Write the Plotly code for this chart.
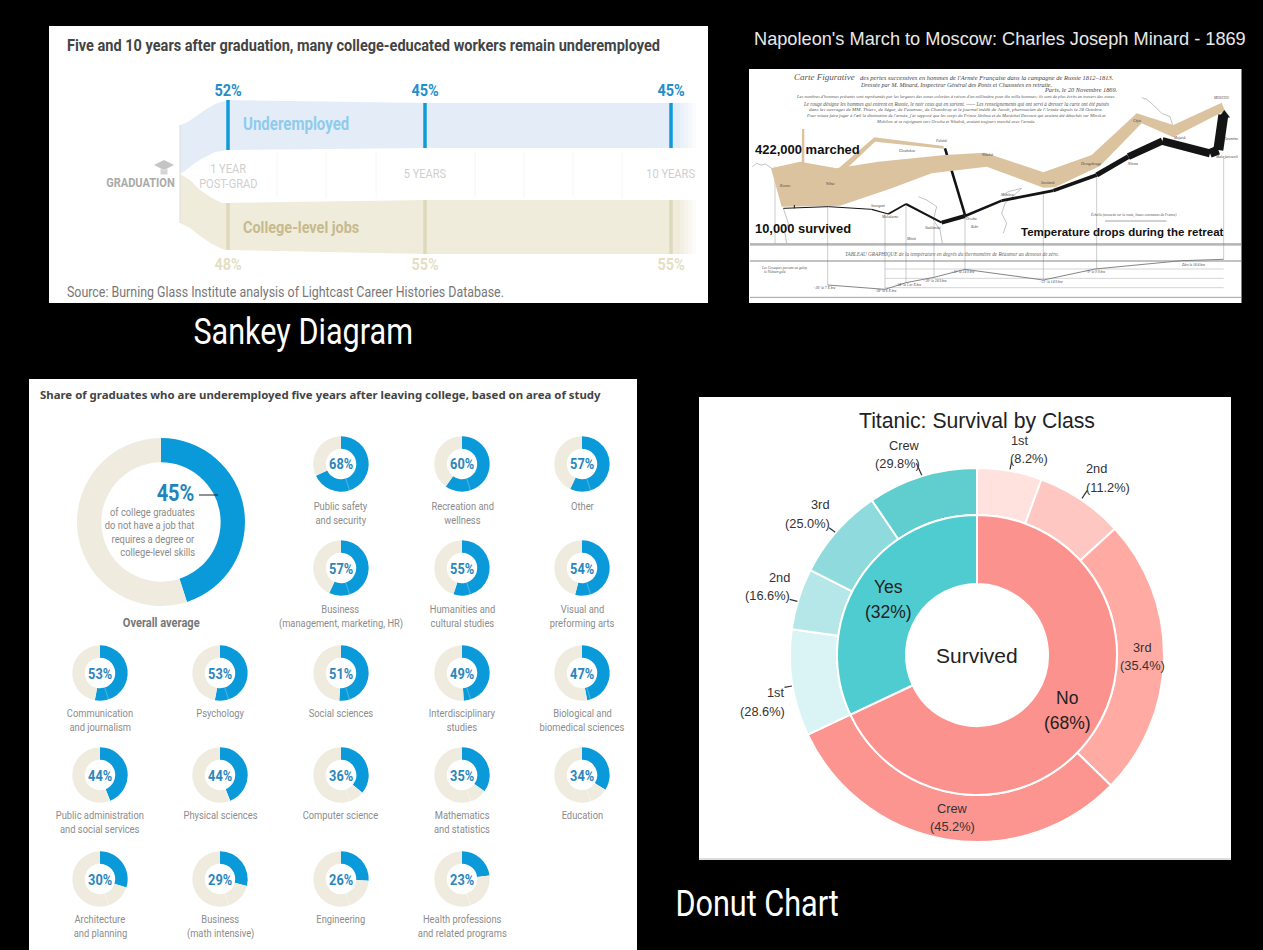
import math
import plotly.graph_objects as go

W, H = 1263, 950
NARROW = "Liberation Sans Narrow, Roboto, sans-serif"
ARIAL = "Liberation Sans, Arial, sans-serif"
SERIF = "Liberation Serif, serif"

BLUE = "#0b9ad9"
BEIGE = "#efecdf"

# ---------- Sankey panel data (axis units = panel position) ----------
sankey_stage_x = [228, 425, 671]
sankey_under_pct = [52, 45, 45]
sankey_college_pct = [48, 55, 55]
sankey_stage_names = [["1 YEAR", "POST-GRAD"], ["5 YEARS"], ["10 YEARS"]]
band_x = [180, 186, 195, 205, 215, 228, 425, 671, 680]
under_top = [125, 123, 117, 110, 104, 100, 103, 103, 103]
under_bottom = [174, 170, 163, 157, 152, 150, 148, 148, 148]
college_x = [180, 190, 200, 212, 222, 228, 425, 671, 680]
college_top = [174, 180, 190, 198, 203, 203, 200, 200, 200]
college_bottom = [223, 228, 236, 244, 249, 250, 254, 254, 254]
fade_x = [680, 684, 688, 692, 696]
fade_alpha = [0.8, 0.6, 0.4, 0.2]
under_stage_top = [100, 103, 103]
under_stage_bottom = [150, 148, 148]
college_stage_top = [203, 200, 200]
college_stage_bottom = [250, 254, 254]
grid_x = [277, 326, 376, 475, 524, 573, 622]

# ---------- Minard panel data (axis units = map position) ----------
advance_x = [78, 165, 275, 400, 600, 720, 895, 1040, 1175, 1285, 1430, 1440, 1285, 1190, 1065, 930, 895, 725, 560, 440, 285, 110]
advance_y = [325, 305, 325, 305, 285, 278, 337, 285, 160, 195, 128, 152, 232, 190, 318, 382, 383, 320, 340, 385, 437, 440]
north_x = [275, 388, 595, 597, 390, 290]
north_y = [330, 232, 258, 266, 245, 340]
spur_x = [170, 171, 178, 178]
spur_y = [310, 207, 207, 310]
retreat_x = [1435, 1420, 1395, 1252, 1150, 1055, 925, 770, 660, 590, 483, 430, 380, 250, 115]
retreat_y = [165, 270, 280, 243, 290, 345, 392, 422, 468, 488, 432, 462, 448, 440, 445]
retreat_w = [10, 9, 8, 7, 5, 3.5, 2.8, 2.5, 4, 2, 1.8, 1.2, 1, 1]
polotzk_x = [600, 660]
polotzk_y = [265, 465]
temp_x = [248, 420, 483, 567, 660, 895, 1050, 1310, 1436]
temp_y = [675, 688, 668, 652, 628, 660, 627, 602, 598]
drop_x = [90, 248, 420, 483, 567, 660, 895, 1055, 1436]
drop_top = [320, 440, 462, 432, 488, 468, 392, 345, 290]
drop_bottom = [550, 675, 688, 668, 652, 628, 660, 627, 598]
rivers = [
    ([22, 35, 48, 62, 80], [320, 310, 315, 312, 325]),
    ([1190, 1205, 1225, 1250, 1275, 1283], [113, 118, 135, 160, 170, 195]),
    ([775, 790, 830, 780, 770, 785, 775], [405, 395, 385, 430, 460, 490, 520]),
    ([520, 545, 575, 565, 585, 592], [410, 420, 440, 480, 510, 550]),
    ([115, 130, 120, 125], [445, 490, 520, 550]),
]
city_names = ["Kowno", "Wilna", "Polotzk", "Gloubokoe", "Witebsk", "Smolensk", "Dorogobouge", "Chjat", "Mojaisk",
              "MOSCOU", "Tarantino", "Malo-jarosewli", "Wixma", "Mohilow", "Orscha", "Smorgoni", "Molodecno", "Studienska", "Minsk", "Bobr"]
city_x = [118, 256, 588, 487, 728, 908, 1035, 1178, 1303, 1428, 1458, 1445, 1163, 785, 680, 400, 432, 565, 497, 690]
city_y = [378, 372, 242, 272, 285, 368, 312, 183, 233, 115, 237, 290, 313, 405, 478, 437, 472, 505, 537, 500]
temp_label = ["Zéro le 18 8.bre", "−9° le 9 9.bre", "−21° le 14 9.bre", "−11° le 24 9.bre", "−20° le 28 9.bre",
              "−24° le 1.er X.bre", "−30° le 6 X.bre", "−26° le 7 X.bre"]
temp_label_x = [1345, 1050, 918, 655, 570, 490, 422, 238]
temp_label_y = [615, 635, 665, 635, 662, 675, 693, 685]
minard_text = [
    "Les nombres d'hommes présents sont représentés par les largeurs des zones colorées à raison d'un millimètre pour dix mille hommes; ils sont de plus écrits en travers des zones.",
    "Le rouge désigne les hommes qui entrent en Russie, le noir ceux qui en sortent. —— Les renseignements qui ont servi à dresser la carte ont été puisés",
    "dans les ouvrages de MM. Thiers, de Ségur, de Fezensac, de Chambray et le journal inédit de Jacob, pharmacien de l'Armée depuis le 28 Octobre.",
    "Pour mieux faire juger à l'œil la diminution de l'armée, j'ai supposé que les corps du Prince Jérôme et du Maréchal Davoust qui avaient été détachés sur Minsk et",
    "Mohilow et se rejoignent vers Orscha et Witebsk, avaient toujours marché avec l'armée.",
]

# ---------- Donut grid data ----------
overall_share = 45
area_names = [
    ["Public safety", "and security"], ["Recreation and", "wellness"], ["Other"],
    ["Business", "(management, marketing, HR)"], ["Humanities and", "cultural studies"], ["Visual and", "preforming arts"],
    ["Communication", "and journalism"], ["Psychology"], ["Social sciences"], ["Interdisciplinary", "studies"], ["Biological and", "biomedical sciences"],
    ["Public administration", "and social services"], ["Physical sciences"], ["Computer science"], ["Mathematics", "and statistics"], ["Education"],
    ["Architecture", "and planning"], ["Business", "(math intensive)"], ["Engineering"], ["Health professions", "and related programs"],
]
area_share = [68, 60, 57, 57, 55, 54, 53, 53, 51, 49, 47, 44, 44, 36, 35, 34, 30, 29, 26, 23]
area_col = [341, 462, 582, 341, 462, 582, 100, 220, 341, 462, 582, 100, 220, 341, 462, 582, 100, 220, 341, 462]
area_row = [464, 464, 464, 568, 568, 568, 673, 673, 673, 673, 673, 775, 775, 775, 775, 775, 879, 879, 879, 879]
area_label_y = {464: 506, 568: 609, 673: 713, 775: 815, 879: 919}

# ---------- Titanic data ----------
survived_labels = ["No", "Yes"]
survived_values = [68, 32]
survived_colors = ["#fb928e", "#4fccd0"]
class_labels = ["No: 1st", "No: 2nd", "No: 3rd", "No: Crew", "Yes: 1st", "Yes: 2nd", "Yes: 3rd", "Yes: Crew"]
class_values = [5.6, 7.6, 24.1, 30.7, 9.2, 5.3, 8.0, 9.5]
class_colors = ["#ffe1de", "#ffc7c1", "#ffaba3", "#fc958f", "#daf3f5", "#b5e7e9", "#8fdadd", "#60cdcf"]


def PX(v):
    return v / W


def PY(v):
    return 1 - v / H


fig = go.Figure()
annotations = []
shapes = []


def note(x, y, text, size, color, font=NARROW, anchor="center", bold=False, italic=False):
    t = f"<b>{text}</b>" if bold else text
    t = f"<i>{t}</i>" if italic else t
    annotations.append(dict(x=PX(x), y=PY(y), xref="paper", yref="paper", text=t, showarrow=False,
                            xanchor=anchor, yanchor="middle", align=anchor if anchor != "center" else "center",
                            font=dict(size=size, color=color, family=font), borderpad=0, borderwidth=0))


def panel(x0, y0, x1, y1, color="white", line=None):
    shapes.append(dict(type="rect", xref="paper", yref="paper", x0=PX(x0), x1=PX(x1), y0=PY(y1), y1=PY(y0),
                       fillcolor=color, line=dict(width=1 if line else 0, color=line or color), layer="below"))


def stroke(x0, y0, x1, y1, color="#222", width=1):
    shapes.append(dict(type="line", xref="paper", yref="paper", x0=PX(x0), x1=PX(x1), y0=PY(y0), y1=PY(y1),
                       line=dict(color=color, width=width)))


def band(xs_top, ys_top, xs_bot, ys_bot, color, xa, ya):
    fig.add_trace(go.Scatter(x=list(xs_top) + list(xs_bot)[::-1], y=list(ys_top) + list(ys_bot)[::-1],
                             fill="toself", fillcolor=color, mode="none", xaxis=xa, yaxis=ya,
                             showlegend=False, hoverinfo="skip"))


def line(xs, ys, color, width, xa, ya):
    fig.add_trace(go.Scatter(x=xs, y=ys, mode="lines", line=dict(color=color, width=width), xaxis=xa, yaxis=ya,
                             showlegend=False, hoverinfo="skip"))


def donut(cx, cy, r, values, colors, hole, sep=0, sepcolor="white", labels=None):
    fig.add_trace(go.Pie(values=values, labels=labels, hole=hole, sort=False, direction="clockwise", rotation=0,
                         marker=dict(colors=colors, line=dict(color=sepcolor, width=sep)),
                         textinfo="none", showlegend=False, hoverinfo="label+value",
                         domain=dict(x=[PX(cx - r), PX(cx + r)], y=[PY(cy + r), PY(cy - r)])))


# ---------- panels ----------
panel(29, 379, 637, 950)
panel(699, 397, 1231, 860)
shapes.append(dict(type="line", xref="paper", yref="paper", x0=PX(699), x1=PX(1231), y0=PY(859), y1=PY(859),
                   line=dict(color="#bbbbbb", width=1)))

# ---------- Sankey panel ----------
for gx in grid_x:
    line([gx, gx], [152, 198], "#f6f6f6", 1, "x", "y")
band(band_x, under_top, band_x, under_bottom, "#e4edf7", "x", "y")
band(college_x, college_top, college_x, college_bottom, "#f0ecdc", "x", "y")
for i, a in enumerate(fade_alpha):
    xs = [fade_x[i], fade_x[i + 1]]
    band(xs, [under_top[-1]] * 2, xs, [under_bottom[-1]] * 2, f"rgba(228,237,247,{a})", "x", "y")
    band(xs, [college_top[-1]] * 2, xs, [college_bottom[-1]] * 2, f"rgba(240,236,220,{a})", "x", "y")
line([180, 180], [125, 223], "#dcdcdc", 1, "x", "y")
for i, sx in enumerate(sankey_stage_x):
    line([sx, sx], [under_stage_top[i], under_stage_bottom[i]], "#0f9ad8", 3.5, "x", "y")
    line([sx, sx], [college_stage_top[i], college_stage_bottom[i]], "#dfd9bb", 3.5, "x", "y")
    note(sx, 90, f"{sankey_under_pct[i]}%", 17, "#1f8fcb", bold=True)
    note(sx, 264, f"{sankey_college_pct[i]}%", 17, "#e3dfc3", bold=True)
    names = sankey_stage_names[i]
    if len(names) == 2:
        note(sx, 168, names[0], 13, "#cfcfcf")
        note(sx, 183, names[1], 13, "#cfcfcf")
    else:
        note(sx, 174, names[0], 13, "#cfcfcf")
fig.add_trace(go.Scatter(x=[164], y=[171], mode="markers", marker=dict(symbol="square", size=7, color="#d4d4d4"),
                         xaxis="x", yaxis="y", showlegend=False, hoverinfo="skip"))
fig.add_trace(go.Scatter(x=[164], y=[165], mode="markers",
                         marker=dict(symbol="diamond-wide", size=15, color="#c4c4c4", line=dict(color="white", width=0.5)),
                         xaxis="x", yaxis="y", showlegend=False, hoverinfo="skip"))
note(67, 45, "Five and 10 years after graduation, many college-educated workers remain underemployed", 17.1, "#444444", anchor="left", bold=True)
note(175, 182, "GRADUATION", 13, "#aaaaaa", anchor="right", bold=True)
note(243, 124, "Underemployed", 17.7, "#8fcbec", anchor="left", bold=True)
note(243, 227, "College-level jobs", 17, "#c6ba8e", anchor="left", bold=True)
note(67, 292, "Source: Burning Glass Institute analysis of Lightcast Career Histories Database.", 14.6, "#777777", anchor="left")

# ---------- Minard panel ----------
for xs, ys in rivers:
    line(xs, ys, "#999999", 0.6, "x2", "y2")
for i in range(len(drop_x)):
    line([drop_x[i], drop_x[i]], [drop_top[i], drop_bottom[i]], "#aaaaaa", 0.6, "x2", "y2")
line([15, 1490], [552, 552], "#555555", 0.8, "x2", "y2")
line([15, 1490], [556, 556], "#999999", 0.6, "x2", "y2")
line([15, 1490], [603, 603], "#555555", 0.7, "x2", "y2")
line([15, 1490], [712, 712], "#777777", 0.7, "x2", "y2")
for gy in [627, 655, 683]:
    line([420, 1436], [gy, gy], "#aaaaaa", 0.5, "x2", "y2")
line([1080, 1265], [483, 483], "#666666", 0.6, "x2", "y2")
line(polotzk_x, polotzk_y, "#111111", 2.6, "x2", "y2")
fig.add_trace(go.Scatter(x=north_x, y=north_y, fill="toself", fillcolor="#dcc3a0", mode="none", xaxis="x2", yaxis="y2",
                         showlegend=False, hoverinfo="skip"))
fig.add_trace(go.Scatter(x=spur_x, y=spur_y, fill="toself", fillcolor="#dcc3a0", mode="none", xaxis="x2", yaxis="y2",
                         showlegend=False, hoverinfo="skip"))
fig.add_trace(go.Scatter(x=advance_x, y=advance_y, fill="toself", fillcolor="#dcc3a0", mode="none", xaxis="x2", yaxis="y2",
                         showlegend=False, hoverinfo="skip"))
for i in range(len(retreat_w)):
    line(retreat_x[i:i + 2], retreat_y[i:i + 2], "#141414", retreat_w[i], "x2", "y2")
line([148, 148], [435, 445], "#141414", 1, "x2", "y2")
fig.add_trace(go.Scatter(x=[1438], y=[165], mode="markers", marker=dict(symbol="triangle-up", size=10, color="#141414"),
                         xaxis="x2", yaxis="y2", showlegend=False, hoverinfo="skip"))


def mx(v):
    return 745 + v / 3


def my(v):
    return 60 + v / 3


note(754, 39, "Napoleon's March to Moscow: Charles Joseph Minard - 1869", 18.2, "#e8e8e8", font=ARIAL, anchor="left")
note(mx(147), my(50), "Carte Figurative", 9, "#555555", font=SERIF, anchor="left", italic=True)
note(mx(345), my(53), "des pertes successives en hommes de l'Armée Française dans la campagne de Russie 1812–1813.", 6.5, "#444444", font=SERIF, anchor="left", italic=True)
note(mx(345), my(74), "Dressée par M. Minard, Inspecteur Général des Ponts et Chaussées en retraite.", 6, "#444444", font=SERIF, anchor="left", italic=True)
note(mx(1115), my(88), "Paris, le 20 Novembre 1869.", 6.3, "#444444", font=SERIF, anchor="right", italic=True)
for yy, txt, sz in zip([110, 131, 150, 168, 187], minard_text, [4.5, 5.1, 5.0, 4.6, 4.5]):
    note(mx(632), my(yy), txt, sz, "#555555", font=SERIF, italic=True)
for name, cx, cy in zip(city_names, city_x, city_y):
    note(mx(cx), my(cy), name, 3.6, "#444444", font=SERIF, italic=True)
for name, cx, cy in zip(temp_label, temp_label_x, temp_label_y):
    note(mx(cx), my(cy), name, 3.6, "#444444", font=SERIF, italic=True)
note(mx(620), my(582), "TABLEAU GRAPHIQUE de la température en degrés du thermomètre de Réaumur au dessous de zéro.", 5.2, "#666666", font=SERIF, italic=True)
note(mx(1165), my(465), "Échelle (mesurée sur la route, lieues communes de France)", 3.6, "#555555", font=SERIF, italic=True)
note(mx(118), my(625), "Les Cosaques passent au galop", 3.6, "#555555", font=SERIF, italic=True)
note(mx(90), my(637), "le Niémen gelé.", 3.6, "#555555", font=SERIF, italic=True)
note(755, 149, "422,000 marched", 13, "#111111", font=ARIAL, anchor="left", bold=True)
note(755, 228, "10,000 survived", 12.9, "#111111", font=ARIAL, anchor="left", bold=True)
note(1021, 232, "Temperature drops during the retreat", 11.5, "#111111", font=ARIAL, anchor="left", bold=True)
line(temp_x, temp_y, "#777777", 0.9, "x2", "y2")

# ---------- Donut grid ----------
note(40, 395, "Share of graduates who are underemployed five years after leaving college, based on area of study", 11.4, "#444444", font="Noto Sans, sans-serif", anchor="left", bold=True)
donut(161, 522, 84, [overall_share, 100 - overall_share], [BLUE, BEIGE], 0.71, labels=["Underemployed", "Other"])
note(194, 493, f"{overall_share}%", 23.5, "#1f85bd", anchor="right", bold=True)
for yy, txt in zip([512, 525.5, 539, 552], ["of college graduates", "do not have a job that", "requires a degree or", "college-level skills"]):
    note(195, yy, txt, 11, "#8a8a8a", anchor="right")
stroke(199, 495, 218, 495, "#222222", 1)
note(161, 622, "Overall average", 13, "#777777", bold=True)
for names, share, cx, cy in zip(area_names, area_share, area_col, area_row):
    donut(cx, cy, 27.7, [share, 100 - share], [BLUE, BEIGE], 0.55, labels=["Underemployed", "Other"])
    a = math.radians(162)
    stroke(cx + 15.5 * math.sin(a), cy - 15.5 * math.cos(a), cx + 27.5 * math.sin(a), cy - 27.5 * math.cos(a),
           "rgba(255,255,255,0.35)", 0.8)
    note(cx, cy + 0.5, f"{share}%", 15, "#2a86bd", bold=True)
    for j, nm in enumerate(names):
        note(cx, area_label_y[cy] + j * 14, nm, 11, "#8c8c8c")

# ---------- Titanic donut ----------
donut(977, 655, 187, class_values, class_colors, 140 / 187, sep=2, labels=class_labels)
donut(977, 655, 140, survived_values, survived_colors, 71 / 140, sep=2, labels=survived_labels)
note(977, 421, "Titanic: Survival by Class", 21.2, "#222222", font=ARIAL)
note(977, 655, "Survived", 21, "#222222", font=ARIAL)
note(888, 587, "Yes", 17.5, "#222222", font=ARIAL)
note(888, 612, "(32%)", 17.5, "#222222", font=ARIAL)
note(1067, 698, "No", 17.5, "#222222", font=ARIAL)
note(1067, 723, "(68%)", 17.5, "#222222", font=ARIAL)
outer_text = [("Crew", "(29.8%)", 904, 446, 897, 464), ("1st", "(8.2%)", 1020, 440, 1029, 458),
              ("2nd", "(11.2%)", 1096, 469, 1108, 488), ("3rd", "(25.0%)", 820, 504, 807, 523),
              ("2nd", "(16.6%)", 779, 577, 767, 595), ("1st", "(28.6%)", 776, 692, 762, 711),
              ("3rd", "(35.4%)", 1142, 647, 1142, 665), ("Crew", "(45.2%)", 952, 808, 952, 826)]
for a_, b_, x1, y1, x2, y2 in outer_text:
    note(x1, y1, a_, 12.8, "#333333", font=ARIAL)
    note(x2, y2, b_, 12.8, "#333333", font=ARIAL)
for (a_, b_, c_, d_) in [(640, 190, 656, 226), (922, 185, 917, 208), (1145, 272, 1130, 295),
                         (382, 383, 400, 397), (265, 598, 288, 604), (250, 862, 272, 858)]:
    stroke(700 + a_ / 2.958, 400 + b_ / 3, 700 + c_ / 2.958, 400 + d_ / 3, "#333333", 1.2)

# ---------- captions ----------
note(303, 332, "Sankey Diagram", 36, "#ffffff")
note(757, 904, "Donut Chart", 36, "#ffffff")

fig.update_layout(
    width=W, height=H, margin=dict(l=0, r=0, t=0, b=0), autosize=False,
    paper_bgcolor="black", plot_bgcolor="white",
    xaxis=dict(domain=[PX(49), PX(708)], range=[49, 708], visible=False, fixedrange=True),
    yaxis=dict(domain=[PY(303), PY(26)], range=[303, 26], visible=False, fixedrange=True),
    xaxis2=dict(domain=[PX(749), PX(1241.5)], range=[12, 1489.5], visible=False, fixedrange=True),
    yaxis2=dict(domain=[PY(303), PY(69)], range=[729, 27], visible=False, fixedrange=True, anchor="x2"),
    annotations=annotations, shapes=shapes,
)
condense = """
document.body.style.margin='0';document.documentElement.style.overflow='hidden';
document.querySelectorAll('.annotation-text').forEach(function(t){
  if((t.getAttribute('style')||'').indexOf('Narrow')>=0){
    var n=t.getComputedTextLength();
    t.setAttribute('lengthAdjust','spacingAndGlyphs');
    t.setAttribute('textLength',(n*0.85).toFixed(1));
  }
});
"""
fig.write_html("out.html", post_script=condense, config={"displayModeBar": False})
